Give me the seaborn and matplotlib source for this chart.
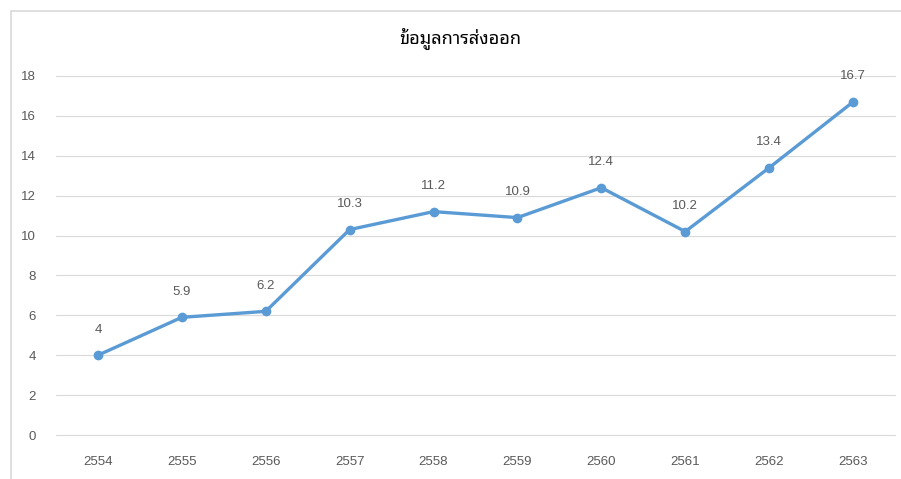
import matplotlib
matplotlib.use("Agg")
import matplotlib.pyplot as plt
from matplotlib import font_manager
from matplotlib.patches import Rectangle
import pandas as pd
import seaborn as sns

years = [2554, 2555, 2556, 2557, 2558, 2559, 2560, 2561, 2562, 2563]
exports = [4, 5.9, 6.2, 10.3, 11.2, 10.9, 12.4, 10.2, 13.4, 16.7]
y_ticks = [0, 2, 4, 6, 8, 10, 12, 14, 16, 18]
title = "ข้อมูลการส่งออก"

sns.set_theme(style="white")
plt.rcParams["font.family"] = ["Liberation Sans", "DejaVu Sans"]

available = {f.name for f in font_manager.fontManager.ttflist}
thai_font = next((n for n in ["Noto Sans Thai Looped", "IBM Plex Sans Thai Looped",
                              "Sarabun", "Noto Sans Thai", "IBM Plex Sans Thai"]
                  if n in available), "DejaVu Sans")

df = pd.DataFrame({"year": years, "value": exports})

fig = plt.figure(figsize=(9.01, 4.79), dpi=100)
ax = fig.add_axes([56 / 901, 1 - 435 / 479, (895 - 56) / 901, (435 - 76) / 479])

# chart area frame
fig.patches.append(Rectangle((11 / 901, -0.05), 1.2, 1 - 11 / 479 + 0.05,
                             transform=fig.transFigure, fill=False,
                             edgecolor="#D9D9D9", linewidth=1.2, zorder=0))

blue = "#5B9BD5"
sns.lineplot(data=df, x="year", y="value", ax=ax, color=blue, linewidth=2.4,
             marker="o", markersize=7, markeredgewidth=0, markerfacecolor=blue)

for x, v in zip(years, exports):
    ax.annotate(f"{v:g}", (x, v), xytext=(0, 14), textcoords="offset points",
                ha="center", va="bottom", fontsize=9.5, color="#595959")

ax.set_xlim(years[0] - 0.5, years[-1] + 0.5)
ax.set_ylim(0, 18)
ax.set_xticks(years)
ax.set_xticklabels([str(y) for y in years])
ax.set_yticks(y_ticks)
ax.set_yticklabels([str(t) for t in y_ticks])
ax.tick_params(axis="both", length=0, labelsize=9.5, labelcolor="#595959")
ax.tick_params(axis="x", pad=15)
ax.tick_params(axis="y", pad=14.5)
ax.yaxis.grid(True, color="#D9D9D9", linewidth=0.8)
for gl in ax.get_ygridlines():
    gl.set_clip_on(False)
ax.set_axisbelow(True)
ax.set_xlabel("")
ax.set_ylabel("")
for s in ax.spines.values():
    s.set_visible(False)
ax.set_facecolor("none")

fig.text(460 / 901, 1 - 38 / 479, title, ha="center", va="center",
         fontsize=13, fontweight="medium", color="#000000",
         family=[thai_font, "DejaVu Sans"])

fig.savefig("out.png", dpi=100)
